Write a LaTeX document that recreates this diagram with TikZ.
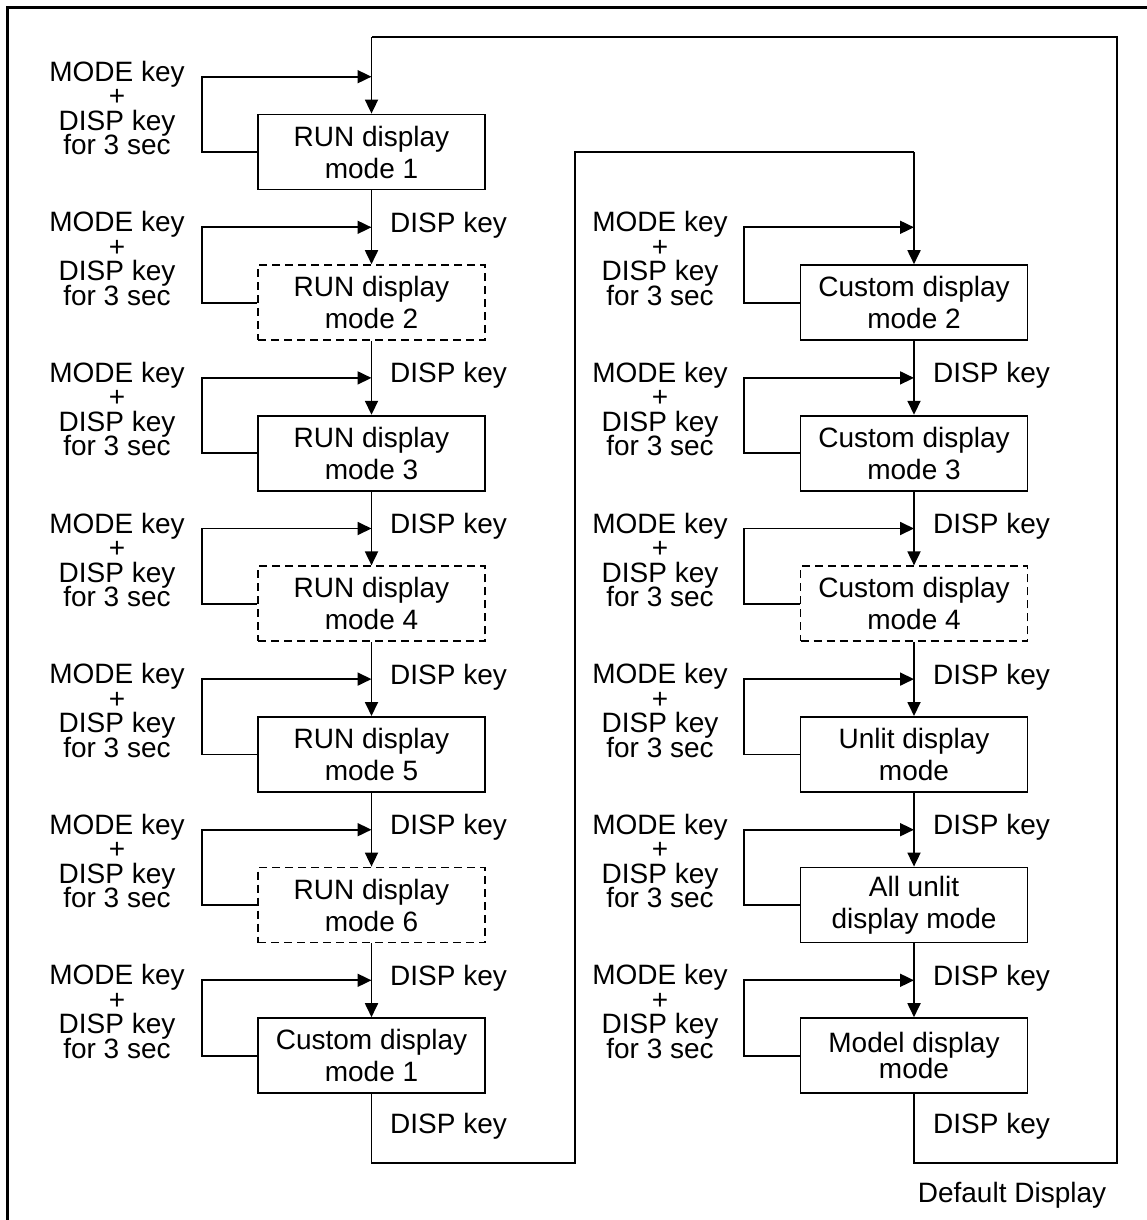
\documentclass[tikz,border=0pt]{standalone}
\usepackage{fontspec}
\setmainfont{Liberation Sans}
\usetikzlibrary{arrows.meta}
\newcommand\keyfont{\fontsize{28}{24.5}\selectfont\lineskiplimit-50pt\relax}
\tikzset{
	modebox/.style={draw, line width=1.8pt, minimum width=227pt, minimum height=75pt, inner sep=0pt, align=center, font=\fontsize{28}{32}\selectfont},
	optbox/.style={modebox, dash pattern=on 8pt off 5pt},
	keytext/.style={align=center, inner sep=0pt, font=\keyfont},
	disptext/.style={anchor=west, inner sep=0pt, font=\fontsize{28}{32}\selectfont},
	flow/.style={line width=1.8pt, -{Triangle[length=14pt,width=13pt]}},
	wire/.style={line width=1.8pt},
}

\begin{document}
\begin{tikzpicture}[x=1pt,y=-1pt]
			%%%%% FRAME %%%%%
			\useasboundingbox (0,0) rectangle (1147,1220);
			\draw[line width=3pt] (7.5,1220) -- (7.5,7.5) -- (1147,7.5);
			
			%%%%% LEFT COLUMN %%%%%
			\node[modebox] (run1) at (371.5,152) {RUN display\\mode 1};
			\node[optbox] (run2) at (371.5,302.6) {RUN display\\mode 2};
			\node[modebox] (run3) at (371.5,453.2) {RUN display\\mode 3};
			\node[optbox] (run4) at (371.5,603.8) {RUN display\\mode 4};
			\node[modebox] (run5) at (371.5,754.4) {RUN display\\mode 5};
			\node[optbox] (run6) at (371.5,905) {RUN display\\mode 6};
			\node[modebox] (cus1) at (371.5,1055.6) {Custom display\\mode 1};
			
			\coordinate (ja1) at (371.5,76.7);
			\coordinate (ja2) at (371.5,227.3);
			\coordinate (ja3) at (371.5,377.9);
			\coordinate (ja4) at (371.5,528.5);
			\coordinate (ja5) at (371.5,679.1);
			\coordinate (ja6) at (371.5,829.7);
			\coordinate (ja7) at (371.5,980.3);
			
			\node[keytext] (ka1) at (117,108) {MODE key\\+\\DISP key\\for 3 sec};
			\node[keytext] (ka2) at (117,258.6) {MODE key\\+\\DISP key\\for 3 sec};
			\node[keytext] (ka3) at (117,409.2) {MODE key\\+\\DISP key\\for 3 sec};
			\node[keytext] (ka4) at (117,559.8) {MODE key\\+\\DISP key\\for 3 sec};
			\node[keytext] (ka5) at (117,710.4) {MODE key\\+\\DISP key\\for 3 sec};
			\node[keytext] (ka6) at (117,861) {MODE key\\+\\DISP key\\for 3 sec};
			\node[keytext] (ka7) at (117,1011.6) {MODE key\\+\\DISP key\\for 3 sec};
			
			\draw[flow] (run1.west) -- ++(-55,0) |- (ja1);
			\draw[flow] (run2.west) -- ++(-55,0) |- (ja2);
			\draw[flow] (run3.west) -- ++(-55,0) |- (ja3);
			\draw[flow] (run4.west) -- ++(-55,0) |- (ja4);
			\draw[flow] (run5.west) -- ++(-55,0) |- (ja5);
			\draw[flow] (run6.west) -- ++(-55,0) |- (ja6);
			\draw[flow] (cus1.west) -- ++(-55,0) |- (ja7);
			
			\draw[flow] (run1.south) -- (run2.north);
			\draw[flow] (run2.south) -- (run3.north);
			\draw[flow] (run3.south) -- (run4.north);
			\draw[flow] (run4.south) -- (run5.north);
			\draw[flow] (run5.south) -- (run6.north);
			\draw[flow] (run6.south) -- (cus1.north);
			
			\node[disptext] (da2) at (390,225) {DISP key};
			\node[disptext] (da3) at (390,375.6) {DISP key};
			\node[disptext] (da4) at (390,526.2) {DISP key};
			\node[disptext] (da5) at (390,676.8) {DISP key};
			\node[disptext] (da6) at (390,827.4) {DISP key};
			\node[disptext] (da7) at (390,978) {DISP key};
			\node[disptext] (da8) at (390,1126) {DISP key};
			
			%%%%% RIGHT COLUMN %%%%%
			\node[modebox] (cus2) at (914,302.6) {Custom display\\mode 2};
			\node[modebox] (cus3) at (914,453.2) {Custom display\\mode 3};
			\node[optbox] (cus4) at (914,603.8) {Custom display\\mode 4};
			\node[modebox] (unlit) at (914,754.4) {Unlit display\\mode};
			\node[modebox] (allunlit) at (914,905) {All unlit\\display mode};
			\node[modebox] (model) at (914,1055.6) {\raisebox{-5pt}{\shortstack{Model display\\[-3pt]mode}}};
			
			\coordinate (jb2) at (914,227.3);
			\coordinate (jb3) at (914,377.9);
			\coordinate (jb4) at (914,528.5);
			\coordinate (jb5) at (914,679.1);
			\coordinate (jb6) at (914,829.7);
			\coordinate (jb7) at (914,980.3);
			
			\node[keytext] (kb2) at (660,258.6) {MODE key\\+\\DISP key\\for 3 sec};
			\node[keytext] (kb3) at (660,409.2) {MODE key\\+\\DISP key\\for 3 sec};
			\node[keytext] (kb4) at (660,559.8) {MODE key\\+\\DISP key\\for 3 sec};
			\node[keytext] (kb5) at (660,710.4) {MODE key\\+\\DISP key\\for 3 sec};
			\node[keytext] (kb6) at (660,861) {MODE key\\+\\DISP key\\for 3 sec};
			\node[keytext] (kb7) at (660,1011.6) {MODE key\\+\\DISP key\\for 3 sec};
			
			\draw[flow] (cus2.west) -- ++(-56,0) |- (jb2);
			\draw[flow] (cus3.west) -- ++(-56,0) |- (jb3);
			\draw[flow] (cus4.west) -- ++(-56,0) |- (jb4);
			\draw[flow] (unlit.west) -- ++(-56,0) |- (jb5);
			\draw[flow] (allunlit.west) -- ++(-56,0) |- (jb6);
			\draw[flow] (model.west) -- ++(-56,0) |- (jb7);
			
			\draw[flow] (cus2.south) -- (cus3.north);
			\draw[flow] (cus3.south) -- (cus4.north);
			\draw[flow] (cus4.south) -- (unlit.north);
			\draw[flow] (unlit.south) -- (allunlit.north);
			\draw[flow] (allunlit.south) -- (model.north);
			
			\node[disptext] (db3) at (933,375.6) {DISP key};
			\node[disptext] (db4) at (933,526.2) {DISP key};
			\node[disptext] (db5) at (933,676.8) {DISP key};
			\node[disptext] (db6) at (933,827.4) {DISP key};
			\node[disptext] (db7) at (933,978) {DISP key};
			\node[disptext] (db8) at (933,1126) {DISP key};
			
			%%%%% RETURN LINES %%%%%
			\coordinate (top) at (371.5,37);
			\coordinate (topright) at (1117,37);
			\coordinate (botright) at (1117,1163);
			\draw[flow] (top) -- (run1.north);
			\draw[wire] (model.south) |- (botright) -- (topright) -- (top);
			
			\coordinate (midbot) at (575,1163);
			\coordinate (midtop) at (575,152);
			\coordinate (cus2in) at (914,152);
			\draw[wire] (cus1.south) |- (midbot) -- (midtop) -- (cus2in);
			\draw[flow] (cus2in) -- (cus2.north);
			
			\node[font=\fontsize{28}{32}\selectfont] (dflt) at (1012,1195) {Default Display};
			
			%%%%% END %%%%%
\end{tikzpicture}
\end{document}
